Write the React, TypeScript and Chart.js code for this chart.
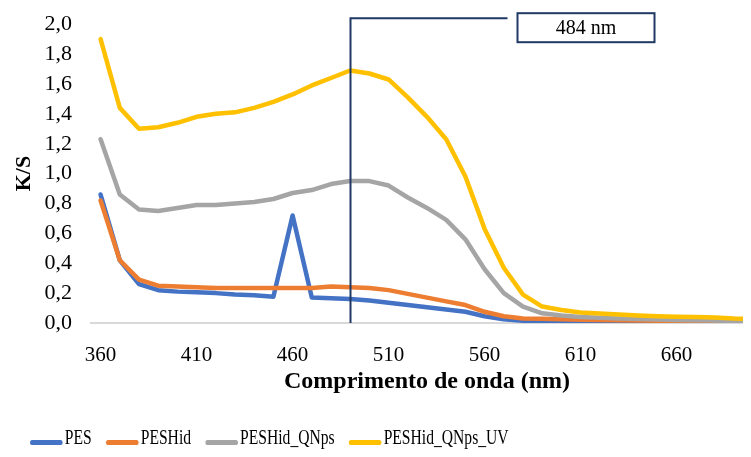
import React, { useEffect, useRef } from "react";
import { Chart, registerables } from "chart.js";

Chart.register(...registerables);

// Wavelength categories (nm)
const wavelengths = [
  360, 370, 380, 390, 400, 410, 420, 430, 440, 450, 460, 470, 480, 490, 500, 510, 520, 530,
  540, 550, 560, 570, 580, 590, 600, 610, 620, 630, 640, 650, 660, 670, 680, 690, 700,
];

// K/S values per sample
const pes = [
  0.86, 0.42, 0.26, 0.22, 0.21, 0.205, 0.2, 0.19, 0.185, 0.175, 0.72, 0.17, 0.165, 0.16, 0.15,
  0.135, 0.12, 0.105, 0.09, 0.075, 0.045, 0.025, 0.015, 0.01, 0.009, 0.008, 0.007, 0.006, 0.005,
  0.005, 0.006, 0.007, 0.008, 0.008, 0.008,
];
const pesHid = [
  0.82, 0.42, 0.29, 0.25, 0.245, 0.24, 0.235, 0.235, 0.235, 0.235, 0.235, 0.235, 0.245, 0.24,
  0.235, 0.22, 0.195, 0.17, 0.145, 0.12, 0.075, 0.045, 0.03, 0.028, 0.025, 0.022, 0.02, 0.018,
  0.016, 0.015, 0.013, 0.012, 0.011, 0.01, 0.01,
];
const pesHidQNps = [
  1.23, 0.86, 0.76, 0.75, 0.77, 0.79, 0.79, 0.8, 0.81, 0.83, 0.87, 0.89, 0.93, 0.95, 0.95, 0.92,
  0.84, 0.77, 0.69, 0.56, 0.36, 0.2, 0.11, 0.065, 0.05, 0.04, 0.035, 0.03, 0.027, 0.024, 0.02,
  0.018, 0.016, 0.014, 0.013,
];
const pesHidQNpsUV = [
  1.9, 1.44, 1.3, 1.31, 1.34, 1.38, 1.4, 1.41, 1.44, 1.48, 1.53, 1.59, 1.64, 1.69, 1.67, 1.63,
  1.51, 1.38, 1.23, 0.98, 0.63, 0.37, 0.19, 0.11, 0.087, 0.07, 0.063, 0.057, 0.05, 0.045, 0.042,
  0.04, 0.037, 0.03, 0.027,
];

const seriesNames = ["PES", "PESHid", "PESHid_QNps", "PESHid_QNps_UV"];
const seriesColors = ["#4472C4", "#ED7D31", "#A5A5A5", "#FFC000"];
const peakLabel = "484 nm";

const SERIF = "'Times New Roman', 'Liberation Serif', serif";
const NAVY = "#1F3864";

// Index of the visible absorption band maximum (first local maximum after the UV edge)
function localPeakIndex(values: number[]) {
  for (let i = 1; i < values.length - 1; i++) {
    if (values[i] >= values[i - 1] && values[i] > values[i + 1] && i > 2) return i;
  }
  return 0;
}

// Vertical marker at the absorption band of the UV-treated sample, with a callout box
const peakMarker = {
  id: "peakMarker",
  afterDatasetsDraw(chart: any) {
    const { ctx, chartArea, scales } = chart;
    const peakIdx = localPeakIndex(pesHidQNpsUV);
    const x = Math.round(scales.x.getPixelForValue(peakIdx)) + 0.5;
    const topY = chartArea.top - 6;
    ctx.save();
    ctx.strokeStyle = NAVY;
    ctx.lineWidth = 2;
    ctx.beginPath();
    ctx.moveTo(x, chartArea.bottom);
    ctx.lineTo(x, topY);
    ctx.lineTo(x + 157, topY);
    ctx.stroke();
    const bx = x + 167;
    const by = topY - 5;
    const bw = 137;
    const bh = 29;
    ctx.fillStyle = "#ffffff";
    ctx.fillRect(bx, by, bw, bh);
    ctx.strokeRect(bx, by, bw, bh);
    ctx.fillStyle = "#000000";
    ctx.font = `20px ${SERIF}`;
    ctx.textAlign = "center";
    ctx.textBaseline = "middle";
    ctx.fillText(peakLabel, bx + bw / 2, by + bh / 2 + 1);
    ctx.restore();
  },
};

function Legend() {
  return (
    <div
      style={{
        position: "absolute",
        left: 30,
        top: 424,
        display: "flex",
        alignItems: "center",
        transform: "scaleX(0.71)",
        transformOrigin: "left center",
        whiteSpace: "nowrap",
        fontFamily: SERIF,
        fontSize: 22,
        color: "#000",
      }}
    >
      {seriesNames.map((name, i) => (
        <div key={name} style={{ display: "flex", alignItems: "center", marginRight: 20 }}>
          <span
            style={{
              display: "inline-block",
              width: 46,
              height: 5,
              borderRadius: 3,
              background: seriesColors[i],
              marginRight: 3,
              marginTop: 10,
            }}
          />
          <span>{name}</span>
        </div>
      ))}
    </div>
  );
}

export default function App() {
  const canvasRef = useRef<HTMLCanvasElement | null>(null);

  useEffect(() => {
    if (!canvasRef.current) return;
    const values = [pes, pesHid, pesHidQNps, pesHidQNpsUV];
    const chart = new Chart(canvasRef.current, {
      type: "line",
      data: {
        labels: wavelengths.map(String),
        datasets: values.map((data, i) => ({
          label: seriesNames[i],
          data,
          borderColor: seriesColors[i],
          backgroundColor: seriesColors[i],
          borderWidth: 4.5,
          pointRadius: 0,
          tension: 0,
          borderCapStyle: "round" as const,
          borderJoinStyle: "round" as const,
          order: values.length - i,
        })),
      },
      options: {
        responsive: false,
        animation: false,
        layout: { padding: { left: 11, top: 16, right: 12, bottom: 61 } },
        plugins: {
          legend: { display: false },
          tooltip: { enabled: false },
        },
        scales: {
          x: {
            type: "category",
            offset: true,
            grid: { display: false },
            border: { display: true, color: "#D9D9D9", width: 2 },
            ticks: {
              autoSkip: false,
              maxRotation: 0,
              padding: 12,
              color: "#000",
              font: { family: SERIF, size: 21 },
              callback: (_v: any, idx: number) => (idx % 5 === 0 ? String(wavelengths[idx]) : ""),
            },
            title: {
              display: true,
              text: "Comprimento de onda (nm)",
              color: "#000",
              font: { family: SERIF, size: 24, weight: "bold" },
              padding: 0,
            },
            afterFit: (s: any) => {
              s.height = 73;
            },
          },
          y: {
            min: 0,
            max: 2,
            grid: { display: false },
            border: { display: false },
            ticks: {
              stepSize: 0.2,
              padding: 11,
              color: "#000",
              font: { family: SERIF, size: 22 },
              callback: (v: any) => (Math.round(Number(v) * 10) / 10).toFixed(1).replace(".", ","),
            },
            title: {
              display: true,
              text: "K/S",
              color: "#000",
              font: { family: SERIF, size: 22, weight: "bold" },
              padding: 0,
            },
            afterFit: (s: any) => {
              s.width = 80;
            },
          },
        },
      },
      plugins: [peakMarker],
    });
    return () => chart.destroy();
  }, []);

  return (
    <div
      style={{
        position: "relative",
        width: 751,
        height: 457,
        margin: -8,
        overflow: "hidden",
        background: "#fff",
      }}
    >
      <canvas
        ref={canvasRef}
        width={775}
        height={457}
        style={{ position: "absolute", left: 0, top: 0, width: 775, height: 457 }}
      />
      <Legend />
    </div>
  );
}
